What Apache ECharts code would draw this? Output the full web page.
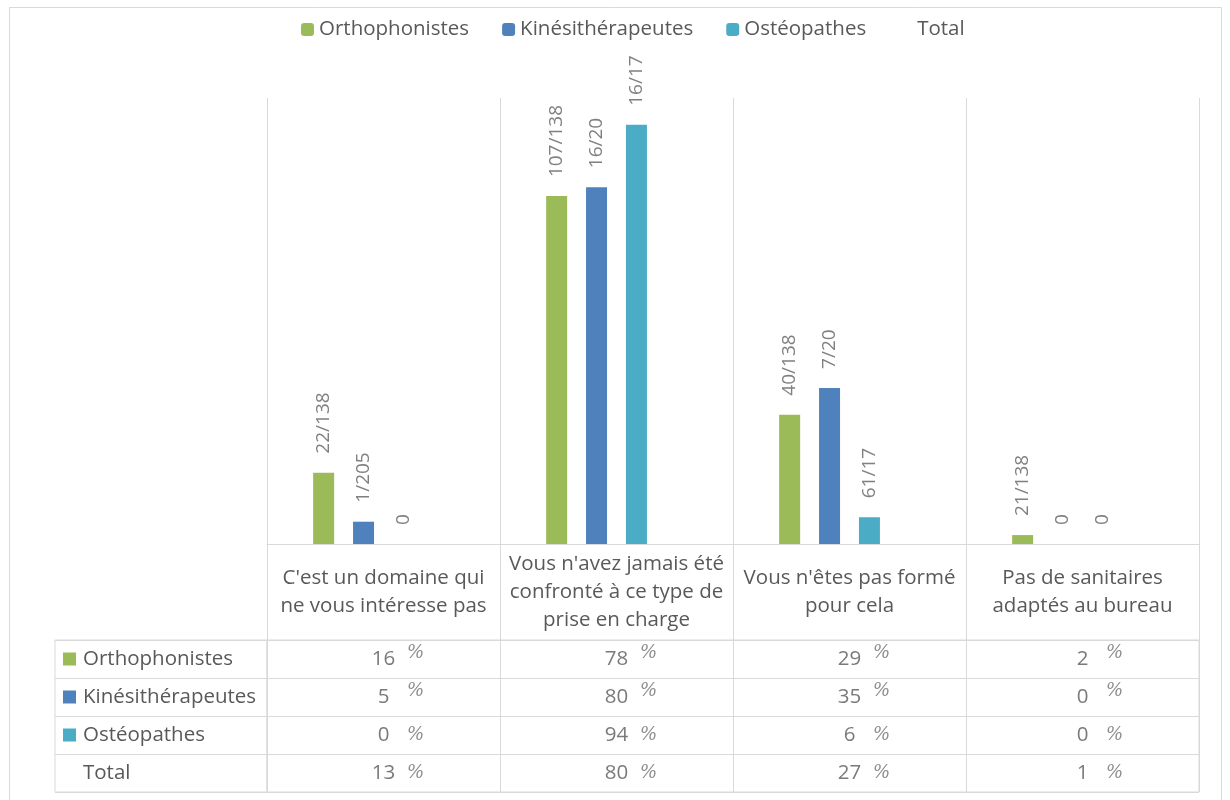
<!DOCTYPE html>
<html>
<head>
<meta charset="utf-8">
<script src="https://cdn.jsdelivr.net/npm/echarts@6/dist/echarts.min.js"></script>
<style>html,body{margin:0;padding:0;background:#fff}#c{width:1230px;height:800px}</style>
</head>
<body>
<div id="c"></div>
<script>
const categories = [
  "C'est un domaine qui\nne vous intéresse pas",
  "Vous n'avez jamais été\nconfronté à ce type de\nprise en charge",
  "Vous n'êtes pas formé\npour cela",
  "Pas de sanitaires\nadaptés au bureau"
];
const seriesNames = ['Orthophonistes', 'Kinésithérapeutes', 'Ostéopathes', 'Total'];
const orthoPct = [16, 78, 29, 2];
const kinePct = [5, 80, 35, 0];
const osteoPct = [0, 94, 6, 0];
const totalPct = [13, 80, 27, 1];
const orthoLabels = ['22/138', '107/138', '40/138', '21/138'];
const kineLabels = ['1/205', '16/20', '7/20', '0'];
const osteoLabels = ['0', '16/17', '61/17', '0'];

const colors = ['#9BBB59', '#4F81BD', '#4BACC6', 'rgba(0,0,0,0)'];
const FONT = 'Open Sans';
const TXT = '#595959';
const LINE = '#d9d9d9';

const pctRows = [orthoPct, kinePct, osteoPct, totalPct];
const labelRows = [orthoLabels, kineLabels, osteoLabels, null];

const tableValues = [];
const tablePct = [];
pctRows.forEach((row, r) => {
  row.forEach((v, c) => {
    tableValues.push([c, r, v]);
    tablePct.push({value: [c, r, v], label: {offset: [32, r < 2 ? -6 : 0]}});
  });
});

const barSeries = seriesNames.map((name, i) => ({
  name: name,
  type: 'bar',
  xAxisIndex: 0,
  yAxisIndex: 0,
  data: pctRows[i],
  barWidth: 21,
  barGap: '90%',
  itemStyle: {color: colors[i]},
  label: labelRows[i] ? {
    show: true,
    position: 'top',
    rotate: 90,
    align: 'left',
    verticalAlign: 'middle',
    distance: 19,
    fontFamily: FONT,
    fontSize: 19,
    color: '#808080',
    formatter: p => labelRows[i][p.dataIndex]
  } : {show: false}
}));

const rowRich = {
  s0: {width: 13, height: 13, backgroundColor: colors[0]},
  s1: {width: 13, height: 13, backgroundColor: colors[1]},
  s2: {width: 13, height: 13, backgroundColor: colors[2]},
  e: {width: 13, height: 13},
  t: {padding: [0, 0, 0, 7], fontSize: 20.5, fontFamily: FONT, color: TXT}
};

const option = {
  animation: false,
  backgroundColor: '#fff',
  legend: {
    left: 296,
    top: 14,
    itemWidth: 13,
    itemHeight: 13,
    itemGap: 33,
    data: seriesNames,
    textStyle: {fontFamily: FONT, fontSize: 20.5, color: TXT}
  },
  graphic: [{
    type: 'rect', silent: true, z: -10,
    shape: {x: 9.5, y: 7.5, width: 1212, height: 800},
    style: {fill: 'none', stroke: LINE, lineWidth: 1}
  }],
  grid: [
    {left: 267, right: 31, top: 98, height: 446},
    {left: 267, right: 31, top: 640, height: 152, show: true, borderColor: LINE, borderWidth: 1},
    {left: 55, width: 212, top: 640, height: 152, show: true, borderColor: LINE, borderWidth: 1}
  ],
  xAxis: [
    {
      gridIndex: 0, type: 'category', data: categories,
      axisLine: {lineStyle: {color: LINE}},
      axisTick: {show: true, length: 248, lineStyle: {color: LINE}},
      splitLine: {show: true, lineStyle: {color: LINE}},
      axisLabel: {margin: 48, verticalAlign: 'middle', lineHeight: 28, fontSize: 20.5, fontFamily: FONT, color: TXT, interval: 0}
    },
    {gridIndex: 1, type: 'category', data: categories, show: false},
    {gridIndex: 2, type: 'value', show: false}
  ],
  yAxis: [
    {gridIndex: 0, type: 'value', min: 0, max: 100, show: false},
    {
      gridIndex: 1, type: 'category', data: seriesNames, inverse: true,
      axisLine: {show: false}, axisTick: {show: false}, axisLabel: {show: false},
      splitLine: {show: true, interval: 0, lineStyle: {color: LINE}}
    },
    {
      gridIndex: 2, type: 'category', data: seriesNames, inverse: true,
      axisLine: {show: false}, axisTick: {show: false},
      splitLine: {show: true, interval: 0, lineStyle: {color: LINE}},
      axisLabel: {
        inside: true, margin: 8, align: 'left', interval: 0,
        formatter: (v, i) => (i < 3 ? '{s' + i + '|}' : '{e|}') + '{t|' + v + '}',
        rich: rowRich
      }
    }
  ],
  series: barSeries.concat([
    {
      name: 'tableValues', type: 'scatter', xAxisIndex: 1, yAxisIndex: 1,
      symbolSize: 0, data: tableValues,
      label: {show: true, position: 'inside', fontFamily: FONT, fontSize: 20.5, color: TXT,
        formatter: p => String(p.value[2])}
    },
    {
      name: 'tablePct', type: 'scatter', xAxisIndex: 1, yAxisIndex: 1,
      symbolSize: 0, data: tablePct,
      label: {show: true, position: 'inside', fontFamily: 'DejaVu Serif', fontStyle: 'italic', fontSize: 18, color: '#6f6f6f',
        formatter: () => '%'}
    }
  ])
};

const chart = echarts.init(document.getElementById('c'), null, {renderer: 'canvas'});
chart.setOption(option);
</script>
</body>
</html>
